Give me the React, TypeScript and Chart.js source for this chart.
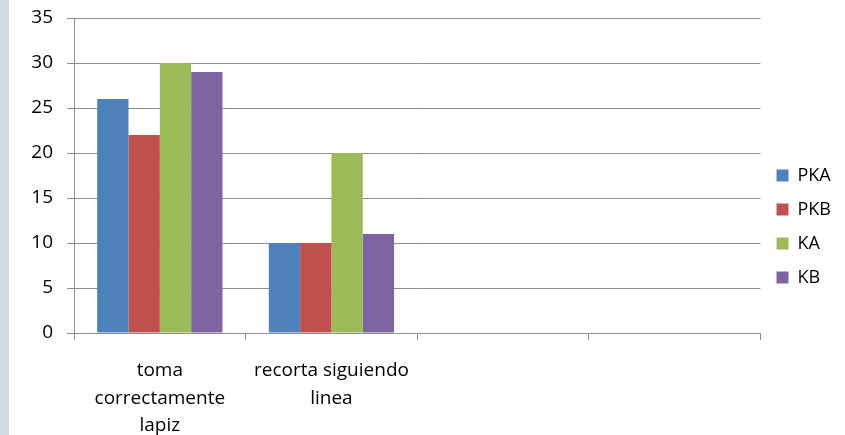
import React, { useEffect, useRef } from "react";
import { Chart, registerables } from "chart.js";

Chart.register(...registerables);

const categories: (string | string[])[] = [
  ["toma", "correctamente", "lapiz"],
  ["recorta siguiendo", "linea"],
  "",
  "",
];
const seriesNames = ["PKA", "PKB", "KA", "KB"];
const pka = [26, 10, null, null];
const pkb = [22, 10, null, null];
const ka = [30, 20, null, null];
const kb = [29, 11, null, null];
const yMin = 0;
const yMax = 35;
const yStep = 5;

const colors = ["#4F81BD", "#C0504D", "#9BBB59", "#8064A2"];
const gridColor = "#8e8e8e";
const FONT = "'Open Sans'";

export default function App() {
  const ref = useRef<HTMLCanvasElement>(null);
  useEffect(() => {
    if (!ref.current) return;
    const values = [pka, pkb, ka, kb];
    const chart = new Chart(ref.current, {
      type: "bar",
      data: {
        labels: categories,
        datasets: seriesNames.map((name, i) => ({
          label: name,
          data: values[i],
          backgroundColor: colors[i],
          borderWidth: 0,
          categoryPercentage: 0.73,
          barPercentage: 1,
        })),
      },
      options: {
        responsive: false,
        animation: false,
        devicePixelRatio: 1,
        layout: { padding: { left: 0, top: 18, right: 4, bottom: 0 } },
        plugins: {
          tooltip: { enabled: false },
          legend: {
            position: "right",
            align: "center",
            labels: {
              boxWidth: 12,
              boxHeight: 12,
              padding: 16,
              color: "#000",
              font: { family: FONT, size: 18 },
            },
          },
        },
        scales: {
          x: {
            afterFit: (s: any) => {
              s.height = 102;
            },
            grid: {
              display: true,
              drawOnChartArea: false,
              drawTicks: true,
              tickLength: 7,
              color: gridColor,
              offset: true,
            },
            border: { display: true, color: gridColor },
            ticks: {
              color: "#000",
              padding: 17,
              maxRotation: 0,
              autoSkip: false,
              font: { family: FONT, size: 19, lineHeight: 1.45 },
            },
          },
          y: {
            min: yMin,
            max: yMax,
            afterFit: (s: any) => {
              s.width = 74;
              s.paddingTop = 0;
              s.paddingBottom = 0;
            },
            grid: { color: gridColor, tickLength: 7 },
            border: { display: true, color: gridColor },
            ticks: {
              stepSize: yStep,
              color: "#000",
              padding: 14,
              font: { family: FONT, size: 19 },
            },
          },
        },
      },
    });
    return () => chart.destroy();
  }, []);

  return (
    <div
      style={{
        position: "fixed",
        left: 0,
        top: 0,
        width: 845,
        height: 435,
        background: "#ffffff",
        overflow: "hidden",
      }}
    >
      <div
        style={{
          position: "absolute",
          left: 0,
          top: 0,
          width: 9,
          height: 435,
          background: "#D3DCE5",
        }}
      />
      <canvas
        ref={ref}
        width={845}
        height={435}
        style={{ position: "absolute", left: 0, top: 0 }}
      />
    </div>
  );
}
